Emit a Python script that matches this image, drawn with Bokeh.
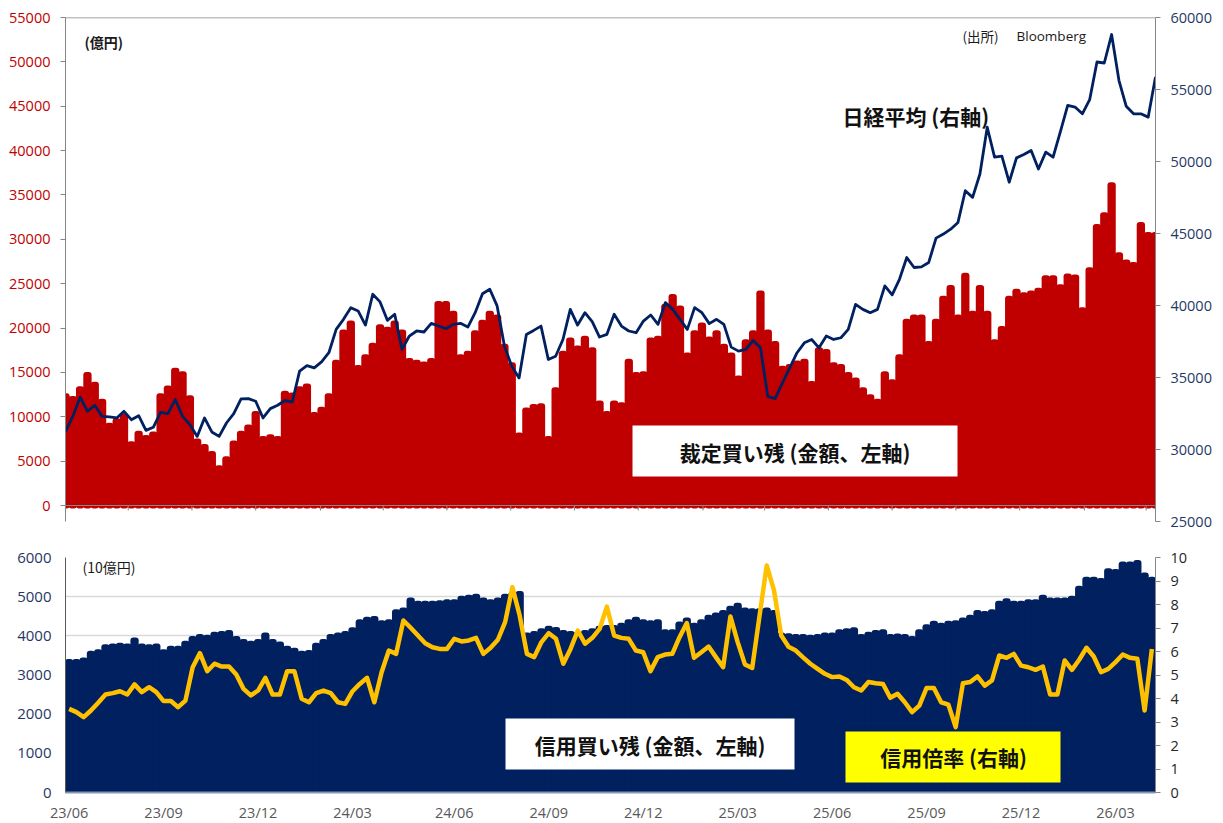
import pandas as pd
from bokeh.plotting import figure
from bokeh.models import (Range1d, LinearAxis, FixedTicker, Span, Label,
                          BoxAnnotation, DatetimeTickFormatter)
from bokeh.layouts import column
from bokeh.embed import file_html
from bokeh.resources import INLINE

# ---------------- data (weekly, from 2023-06-02) ----------------
start_date = "2023-06-02"

# 裁定買い残 (億円, left axis, top panel)
arbitrage_buy = [
    12300, 12000, 13100, 14700, 13600, 11700, 9000, 9500, 10000, 6900,
    8100, 7600, 8000, 12300, 13200, 15200, 14800, 12100, 7200, 6600,
    5800, 4200, 5200, 7000, 8100, 8800, 10300, 7500, 7700, 7500,
    12600, 12400, 13100, 13400, 10200, 10800, 12300, 16100, 19500, 20500,
    15500, 16700, 18000, 20100, 19800, 20500, 19500, 16300, 16100, 15900,
    16300, 22700, 22700, 21600, 16700, 17100, 19400, 20600, 21600, 21200,
    17900, 15800, 7900, 10700, 11100, 11200, 7500, 13000, 17100, 18600,
    17700, 18800, 17500, 11500, 10300, 11500, 11300, 16200, 14700, 14800,
    18600, 18800, 22400, 23500, 22200, 16900, 19400, 20300, 18700, 19400,
    17900, 16900, 14300, 18400, 19400, 23900, 19500, 18200, 15400, 15600,
    16000, 16200, 13700, 17500, 17300, 15800, 15600, 14700, 14100, 13000,
    12200, 11700, 14800, 13900, 16700, 20700, 21200, 21200, 18200, 20700,
    23300, 24500, 21200, 25900, 21600, 24500, 21600, 18400, 19900, 23300,
    24100, 23700, 23900, 24200, 25600, 25600, 24600, 25800, 25700, 22000,
    26500, 31400, 32700, 36100, 28200, 27400, 27100, 31600, 30500, 30500,
]

# 日経平均 (right axis, top panel)
nikkei = [
    31263, 32300, 33630, 32650, 33070, 32300, 32260, 32190, 32650, 32070,
    32350, 31330, 31540, 32580, 32490, 33470, 32300, 31730, 30910, 32190,
    31220, 30910, 31840, 32490, 33510, 33530, 33350, 32190, 32840, 33070,
    33400, 33300, 35440, 35830, 35670, 36090, 36720, 38340, 39040, 39850,
    39620, 38640, 40780, 40250, 38970, 39390,
    36950, 37880, 38230, 38160, 38760, 38580, 38390, 38690, 38760, 38500,
    39500, 40820, 41130, 39970, 37180, 35790, 34970, 37990, 38270, 38570,
    36250, 36480, 37640, 39730, 38640, 39500, 38880, 37810, 37990, 39390,
    38570, 38230, 38110, 38920, 39340, 38690, 40200, 39730, 39040, 38340,
    39850, 39500, 38740, 39040, 38690, 37110, 36830, 36950, 37570, 37060,
    33690, 33530, 34620, 35670, 36720, 37410, 37640, 37060,
    37880, 37640, 37760, 38340, 40080, 39730, 39500, 39730, 41360, 40740,
    41820, 43330, 42640, 42680, 42990, 44680, 44960, 45300, 45770, 47970,
    47510, 49130, 52380, 50300, 50370, 48560, 50250, 50480, 50760, 49480,
    50650, 50300, 52080, 53890, 53780, 53310, 54290, 56910, 56840, 58820,
    55640, 53830, 53310, 53310, 53080, 55870,
]

# 信用買い残 (10億円, left axis, bottom panel)
margin_buy = [
    3330, 3330, 3370, 3540, 3580, 3710, 3730, 3750, 3730, 3880,
    3730, 3710, 3730, 3580, 3670, 3670, 3800, 3920, 3970, 3950,
    4030, 4050, 4070, 3920, 3840, 3800, 3840, 4010, 3840, 3780,
    3670, 3620, 3540, 3560, 3750, 3840, 3970, 4010, 4050, 4140,
    4350, 4410, 4430, 4320, 4350, 4600, 4650, 4900, 4820,
    4820, 4820, 4830, 4860, 4860, 4945, 4970, 5000, 4900, 4860,
    4900, 5000, 5050, 5070, 4010, 4050, 4120, 4180, 4150, 4070,
    4050, 4030, 4070, 4120, 4180, 4200, 4200, 4260, 4350, 4410,
    4350, 4320, 4350, 4090, 4090, 4290, 4390, 4260, 4350, 4460,
    4520, 4580, 4690, 4770, 4650, 4630, 4630, 4650, 4580,
    4010, 3990, 3970, 3970, 3950, 3970, 4010, 4010, 4090, 4120,
    4140, 3970, 4030, 4070, 4090, 3970, 3980, 3970, 3920, 4090,
    4220, 4310, 4260, 4310, 4320, 4390, 4460, 4580, 4560, 4600,
    4820, 4880, 4820, 4820, 4860, 4860, 4970, 4900, 4900, 4900,
    4945, 5200, 5430, 5430, 5400, 5650, 5630, 5820, 5820, 5860,
    5540, 5430,
]

# 信用倍率 (right axis, bottom panel)
margin_ratio = [
    3.56, 3.42, 3.21, 3.49, 3.82, 4.17, 4.23, 4.31, 4.17, 4.60,
    4.27, 4.48, 4.27, 3.89, 3.89, 3.63, 3.91, 5.33, 5.93, 5.16,
    5.48, 5.36, 5.36, 5.02, 4.41, 4.13, 4.34, 4.88, 4.17, 4.17,
    5.16, 5.16, 3.99, 3.84, 4.23, 4.34, 4.23, 3.84, 3.77, 4.31,
    4.62, 4.88, 3.84, 5.12, 6.04, 5.90, 7.32, 7.01, 6.68,
    6.35, 6.18, 6.11, 6.11, 6.54, 6.43, 6.47, 6.58, 5.90, 6.16,
    6.50, 7.25, 8.74, 7.53, 5.90, 5.76, 6.40, 6.78, 6.54, 5.48,
    6.11, 6.89, 6.33, 6.58, 6.96, 7.91, 6.68, 6.58, 6.54, 6.04,
    5.97, 5.16, 5.76, 5.87, 5.90, 6.61, 7.21, 5.73, 5.97, 6.21,
    5.76, 5.33, 7.49, 6.40, 5.45, 5.30, 7.50, 9.66, 8.60, 6.68,
    6.20, 6.04, 5.75,
    5.48, 5.26, 5.05, 4.91, 4.94, 4.79, 4.48, 4.34, 4.70, 4.65,
    4.62, 4.03, 4.20, 3.84, 3.42, 3.70, 4.45, 4.45, 3.84, 3.74,
    2.78, 4.65, 4.70, 4.94, 4.55, 4.77, 5.83, 5.73, 5.90, 5.40,
    5.33, 5.22, 5.36, 4.17, 4.17, 5.62, 5.22, 5.65, 6.16, 5.79,
    5.12, 5.26, 5.55, 5.87, 5.73, 5.69, 3.49, 6.11,
]

left_ticks_top = list(range(0, 55001, 5000))
right_ticks_top = list(range(25000, 60001, 5000))
left_ticks_bottom = list(range(0, 6001, 1000))
right_ticks_bottom = list(range(0, 11))

dates = pd.date_range(start_date, periods=len(arbitrage_buy), freq="7D")
top_tick_dates = pd.date_range("2023-08-01", "2026-04-01", freq="2MS")
label_dates = [d for d in dates if d.month in (3, 6, 9, 12) and d.day <= 7]


def ms(t):
    return pd.Timestamp(t).value / 1e6


DAY = 86400000.0
X0, X1 = ms(dates[0]), ms(dates[-1])
FL, FW = 65, 1090           # frame left / width (page px)
T_TOP, T_H = 17, 504        # top frame
LMIN, LMAX = -1803, 55000
B0, B1 = X0 - 3.5 * DAY, X1 + 3.5 * DAY
B_TOP, B_H = 557, 235       # bottom frame


def tx(px):
    return X0 + (px - FL) / FW * (X1 - X0)


def ty(py):
    return LMAX - (py - T_TOP) / T_H * (LMAX - LMIN)


def bx(px):
    return B0 + (px - FL) / FW * (B1 - B0)


def by(py):
    return 6000 - (py - B_TOP) / B_H * 6000


RED = "#C00000"
NAVY = "#002060"
GRAY = "#868686"
TICK_FONT = "Open Sans"
JP = "Noto Sans CJK JP"
BAR_W = 2.2 * DAY

# ---------------- top panel ----------------
p1 = figure(frame_width=FW, frame_height=T_H,
            x_range=Range1d(X0, X1), y_range=Range1d(LMIN, LMAX),
            x_axis_type="datetime", x_axis_location=None,
            output_backend="svg", toolbar_location=None,
            min_border_left=FL, min_border_right=62,
            min_border_top=T_TOP, min_border_bottom=15,
            outline_line_color=None,
            background_fill_color="white", border_fill_color="white")
p1.xgrid.visible = False
p1.ygrid.visible = False

yl = p1.yaxis[0]
yl.ticker = FixedTicker(ticks=left_ticks_top)
yl.major_label_text_color = RED
yl.major_label_text_font = TICK_FONT
yl.major_label_text_font_size = "14.5px"
yl.axis_line_color = GRAY
yl.major_tick_line_color = GRAY
yl.major_tick_out = 5
yl.major_tick_in = 0
yl.minor_tick_out = 0
yl.major_label_standoff = 10

p1.extra_y_ranges = {"nk": Range1d(25000, 60000)}
yr = LinearAxis(y_range_name="nk", ticker=FixedTicker(ticks=right_ticks_top))
yr.major_label_text_color = "#1F3864"
yr.major_label_text_font = TICK_FONT
yr.major_label_text_font_size = "14.5px"
yr.axis_line_color = GRAY
yr.major_tick_line_color = GRAY
yr.major_tick_out = 5
yr.major_tick_in = 0
yr.minor_tick_out = 0
yr.major_label_standoff = 10
p1.add_layout(yr, "right")

p1.vbar(x=dates, top=arbitrage_buy, bottom=0, width=BAR_W,
        fill_color=RED, line_color=RED, line_width=6, line_join="round")
p1.segment(x0=top_tick_dates, y0=0, x1=top_tick_dates,
           y1=-5 / T_H * (LMAX - LMIN), line_color=GRAY, line_width=1)
p1.line(dates, nikkei, y_range_name="nk", line_color=NAVY,
        line_width=2.8, line_join="round")

p1.add_layout(Span(location=0, dimension="width", line_color=GRAY, line_width=1.2))
p1.add_layout(Span(location=LMAX, dimension="width", line_color=GRAY, line_width=1.5))

p1.add_layout(Label(x=tx(84), y=ty(41), text="(億円)", text_font=JP,
                    text_font_style="bold", text_font_size="14px",
                    text_color="#1a1a1a", text_baseline="middle", text_align="left"))
p1.add_layout(Label(x=tx(962), y=ty(35), text="(出所)", text_font=JP,
                    text_font_size="13.5px", text_color="#1a1a1a",
                    text_baseline="middle", text_align="left"))
p1.add_layout(Label(x=tx(1016), y=ty(35), text="Bloomberg", text_font=TICK_FONT,
                    text_font_size="13.5px", text_color="#1a1a1a",
                    text_baseline="middle", text_align="left"))
p1.add_layout(Label(x=tx(842), y=ty(115), text="日経平均 (右軸)", text_font=JP,
                    text_font_style="bold", text_font_size="21px",
                    text_color="#111111", text_baseline="middle", text_align="left"))
p1.add_layout(BoxAnnotation(left=tx(632), right=tx(957), top=ty(425), bottom=ty(476),
                            fill_color="white", fill_alpha=1.0, line_color=None))
p1.add_layout(Label(x=tx(794.5), y=ty(451), text="裁定買い残 (金額、左軸)", text_font=JP,
                    text_font_style="bold", text_font_size="21px",
                    text_color="#111111", text_baseline="middle", text_align="center"))

# ---------------- bottom panel ----------------
p2 = figure(frame_width=FW, frame_height=B_H,
            x_range=Range1d(B0, B1), y_range=Range1d(0, 6000),
            x_axis_type="datetime",
            output_backend="svg", toolbar_location=None,
            min_border_left=FL, min_border_right=62,
            min_border_top=B_TOP - (T_TOP + T_H + 15), min_border_bottom=0,
            outline_line_color=None,
            background_fill_color="white", border_fill_color="white")
p2.xgrid.visible = False
p2.ygrid[0].ticker = FixedTicker(ticks=left_ticks_bottom[1:])
p2.ygrid[0].grid_line_color = "#D9D9D9"
p2.ygrid[0].grid_line_width = 1.5

xa = p2.xaxis[0]
xa.ticker = FixedTicker(ticks=[ms(d) for d in label_dates])
fmt = "%y/%m"
xa.formatter = DatetimeTickFormatter(microseconds=fmt, milliseconds=fmt, seconds=fmt,
                                     minsec=fmt, minutes=fmt, hourmin=fmt, hours=fmt,
                                     days=fmt, months=fmt, years=fmt)
xa.major_label_text_color = "#595959"
xa.major_label_text_font = TICK_FONT
xa.major_label_text_font_size = "14.5px"
xa.major_tick_out = 0
xa.major_tick_in = 0
xa.minor_tick_out = 0
xa.minor_tick_in = 0
xa.axis_line_color = "#8497B0"
xa.axis_line_width = 2
xa.major_label_standoff = 10

ya = p2.yaxis[0]
ya.ticker = FixedTicker(ticks=left_ticks_bottom)
ya.major_label_text_color = "#1F3864"
ya.major_label_text_font = TICK_FONT
ya.major_label_text_font_size = "15px"
ya.axis_line_color = "#595959"
ya.major_tick_out = 0
ya.major_tick_in = 0
ya.minor_tick_out = 0
ya.major_label_standoff = 14

p2.extra_y_ranges = {"ratio": Range1d(0, 10)}
yr2 = LinearAxis(y_range_name="ratio", ticker=FixedTicker(ticks=right_ticks_bottom))
yr2.major_label_text_color = "#262626"
yr2.major_label_text_font = TICK_FONT
yr2.major_label_text_font_size = "14.5px"
yr2.axis_line_color = GRAY
yr2.major_tick_line_color = GRAY
yr2.major_tick_out = 5
yr2.major_tick_in = 0
yr2.minor_tick_out = 0
yr2.major_label_standoff = 10
p2.add_layout(yr2, "right")

p2.vbar(x=dates, top=margin_buy, bottom=0, width=BAR_W,
        fill_color=NAVY, line_color=NAVY, line_width=6, line_join="round")
p2.line(dates, margin_ratio, y_range_name="ratio", line_color="#FFC000",
        line_width=4.5, line_join="round")

p2.add_layout(Label(x=bx(82), y=by(566.5), text="(10億円)", text_font=JP,
                    text_font_size="14px", text_color="#1a1a1a",
                    text_baseline="middle", text_align="left"))
p2.add_layout(BoxAnnotation(left=bx(505), right=bx(794), top=by(718), bottom=by(769),
                            fill_color="white", fill_alpha=1.0, line_color=None))
p2.add_layout(Label(x=bx(649.5), y=by(744), text="信用買い残 (金額、左軸)", text_font=JP,
                    text_font_style="bold", text_font_size="21px",
                    text_color="#111111", text_baseline="middle", text_align="center"))
p2.add_layout(BoxAnnotation(left=bx(845), right=bx(1060), top=by(731), bottom=by(782),
                            fill_color="#FFFF00", fill_alpha=1.0, line_color=None))
p2.add_layout(Label(x=bx(953), y=by(756.5), text="信用倍率 (右軸)", text_font=JP,
                    text_font_style="bold", text_font_size="21px",
                    text_color="#111111", text_baseline="middle", text_align="center"))

layout = column(p1, p2, spacing=0)
open("out.html", "w").write(file_html(layout, INLINE))
